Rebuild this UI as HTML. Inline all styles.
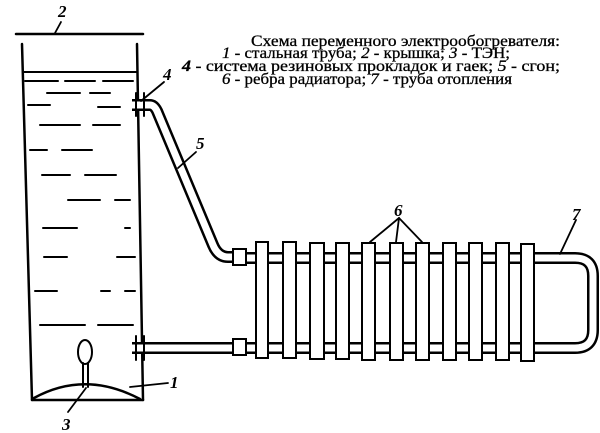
<!DOCTYPE html>
<html><head><meta charset="utf-8"><style>html,body{margin:0;padding:0;background:#fff}svg{display:block}</style></head>
<body>
<svg width="600" height="433" viewBox="0 0 600 433" xmlns="http://www.w3.org/2000/svg">
<g fill="none" stroke="#000" stroke-linecap="round">
<!-- lid -->
<line x1="16" y1="34" x2="143" y2="34" stroke-width="2.5"/>
<!-- tank walls -->
<line x1="22" y1="44" x2="32" y2="400" stroke-width="2.5"/>
<line x1="137" y1="44" x2="143" y2="400" stroke-width="2.5"/>
<line x1="32" y1="400" x2="143" y2="400" stroke-width="2.5"/>
<line x1="23" y1="72" x2="137" y2="72" stroke-width="2"/>
<path d="M34 398 Q85 370 140 399" stroke-width="2.5"/>
<!-- heater -->
<ellipse cx="85" cy="352" rx="7" ry="12" stroke-width="2"/>
<line x1="83" y1="363" x2="83" y2="387" stroke-width="2"/>
<line x1="88" y1="363" x2="88" y2="387" stroke-width="2"/>
<!-- water dashes -->
<g stroke-width="2">
<path d="M25 81H58M65 81H95M103 81H133M47 93H80M90 93H110M28 105H50M98 107H120M40 125H80M93 125H120M30 150H47M62 150H92M42 175H70M85 175H116M68 200H100M115 200H130M43 228H77M125 228H130M44 257H67M117 257H135M35 291H57M101 291H110M125 291H135M40 325H85M98 325H133"/>
</g>
<!-- upper pipe -->
<path d="M132 105 H150 Q154 105 157 111 L213 245 Q218 257 228 257 H236" stroke-width="12" stroke-linecap="butt" stroke-linejoin="round"/>
<path d="M132 105 H150 Q154 105 157 111 L213 245 Q218 257 228 257 H236" stroke="#fff" stroke-width="7" stroke-linecap="butt" stroke-linejoin="round"/>
<!-- lower pipe -->
<path d="M132 348 H236" stroke-width="12" stroke-linecap="butt"/>
<path d="M132 348 H236" stroke="#fff" stroke-width="7" stroke-linecap="butt"/>
<!-- fittings -->
<g stroke-width="2">
<line x1="136" y1="93" x2="136" y2="116"/><line x1="144" y1="93" x2="144" y2="116"/>
<line x1="136" y1="336" x2="136" y2="360"/><line x1="144" y1="336" x2="144" y2="360"/>
</g>
<!-- radiator pipes -->
<path d="M240 258 H575 Q593 258 593 276 V330 Q593 348 575 348 H240" stroke-width="12" stroke-linecap="butt"/>
<path d="M240 258 H575 Q593 258 593 276 V330 Q593 348 575 348 H240" stroke="#fff" stroke-width="7" stroke-linecap="butt"/>
<!-- couplers -->
<rect x="233" y="249" width="13" height="16" fill="#fff" stroke-width="2"/>
<rect x="233" y="339" width="13" height="16" fill="#fff" stroke-width="2"/>
<!-- fins -->
<g fill="#fff" stroke-width="2">
<rect x="256" y="242" width="12" height="116"/><rect x="283" y="242" width="13" height="116"/>
<rect x="310" y="243" width="14" height="116"/><rect x="336" y="243" width="13" height="116"/>
<rect x="362" y="243" width="13" height="117"/><rect x="390" y="243" width="13" height="117"/>
<rect x="416" y="243" width="13" height="117"/><rect x="443" y="243" width="13" height="117"/>
<rect x="469" y="243" width="13" height="117"/><rect x="496" y="243" width="13" height="117"/>
<rect x="521" y="244" width="13" height="117"/>
</g>
<!-- leaders -->
<g stroke-width="1.8">
<line x1="55" y1="33" x2="61" y2="22"/>
<line x1="130" y1="387" x2="168" y2="383"/>
<line x1="86" y1="388" x2="68" y2="412"/>
<line x1="164" y1="82" x2="141" y2="101"/>
<line x1="178" y1="168" x2="196" y2="152"/>
<line x1="399" y1="218" x2="370" y2="242"/><line x1="399" y1="218" x2="396" y2="242"/><line x1="399" y1="218" x2="422" y2="242"/>
<line x1="576" y1="220" x2="560" y2="254"/>
</g>
</g>
<g font-family="Liberation Serif, serif" font-style="italic" font-weight="bold" font-size="17" fill="#000">
<text x="58" y="17">2</text>
<text x="62" y="430">3</text>
<text x="170" y="388">1</text>
<text x="163" y="80">4</text>
<text x="196" y="149">5</text>
<text x="394" y="216">6</text>
<text x="572" y="220">7</text>
</g>
<g font-family="Liberation Serif, serif" font-size="16" fill="#000" stroke="#000" stroke-width="0.3">
<text x="251" y="46" textLength="309" lengthAdjust="spacingAndGlyphs">Схема переменного электрообогревателя:</text>
<text x="222" y="58" textLength="288" lengthAdjust="spacingAndGlyphs"><tspan font-style="italic">1</tspan> - стальная труба; <tspan font-style="italic">2</tspan> - крышка; <tspan font-style="italic">3</tspan> - ТЭН;</text>
<text x="182" y="71" textLength="378" lengthAdjust="spacingAndGlyphs"><tspan font-style="italic" font-weight="bold">4</tspan> - система резиновых прокладок и гаек; <tspan font-style="italic">5</tspan> - сгон;</text>
<text x="222" y="84" textLength="290" lengthAdjust="spacingAndGlyphs"><tspan font-style="italic">6</tspan> - ребра радиатора; <tspan font-style="italic">7</tspan> - труба отопления</text>
</g>
</svg>
</body></html>
